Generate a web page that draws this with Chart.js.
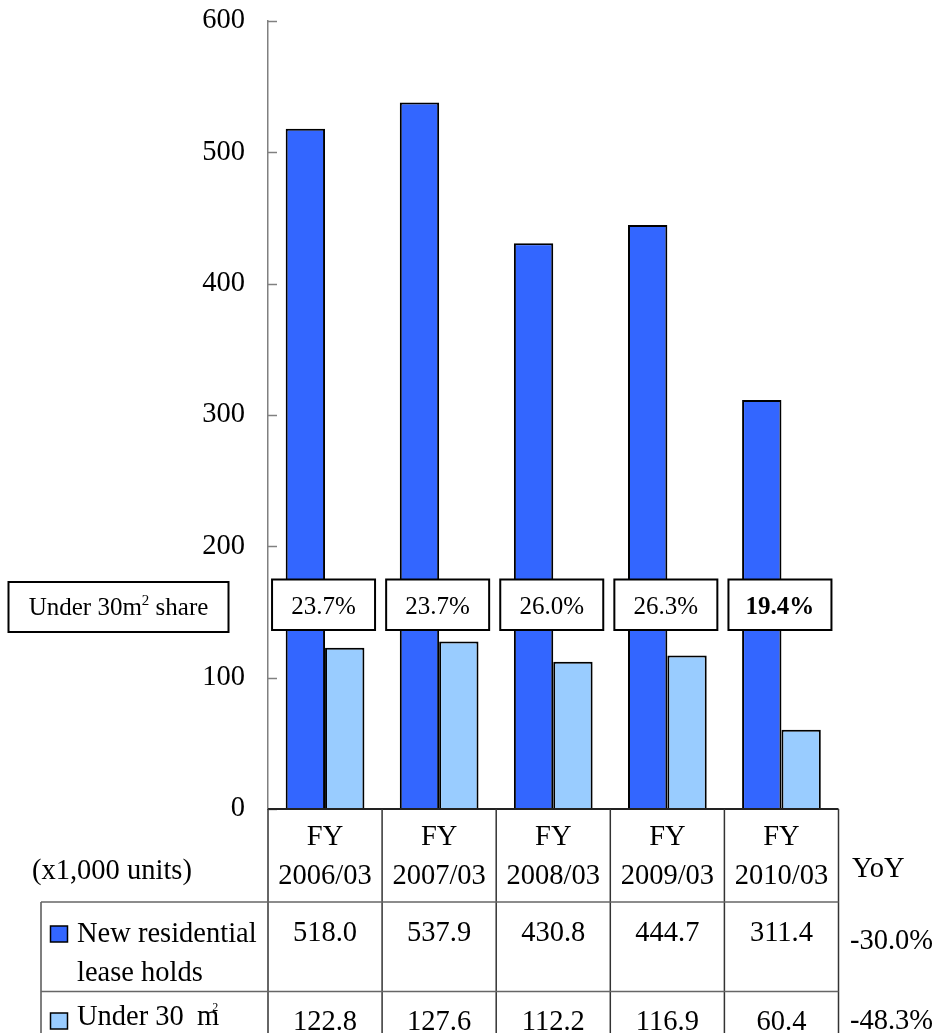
<!DOCTYPE html>
<html>
<head>
<meta charset="utf-8">
<script src="https://cdn.jsdelivr.net/npm/chart.js@4.4.0/dist/chart.umd.min.js"></script>
<style>
  html, body { margin: 0; padding: 0; background: #fff; }
  #wrap { width: 941px; height: 1033px; }
</style>
</head>
<body>
<div id="wrap"><canvas id="leaseChart" width="941" height="1033"></canvas></div>
<script>
const years = ["2006/03", "2007/03", "2008/03", "2009/03", "2010/03"];
const newLeases = [518.0, 537.9, 430.8, 444.7, 311.4];
const smallUnits = [122.8, 127.6, 112.2, 116.9, 60.4];
const yTicks = [0, 100, 200, 300, 400, 500, 600];
const barColors = ["#3366FF", "#99CCFF"];

const serif = "'Liberation Serif', 'Times New Roman', serif";

function drawText(ctx, str, x, y, size, align, bold) {
    ctx.font = (bold ? "bold " : "") + size + "px " + serif;
    ctx.textAlign = align || "left";
    ctx.textBaseline = "alphabetic";
    ctx.fillStyle = "#000";
    ctx.fillText(str, x, y);
}

function line(ctx, x1, y1, x2, y2, color, width) {
    ctx.beginPath();
    ctx.strokeStyle = color;
    ctx.lineWidth = width;
    ctx.moveTo(x1, y1);
    ctx.lineTo(x2, y2);
    ctx.stroke();
}

function boxRect(ctx, x, y, w, h) {
    ctx.fillStyle = "#fff";
    ctx.fillRect(x, y, w, h);
    ctx.strokeStyle = "#000";
    ctx.lineWidth = 2;
    ctx.strokeRect(x, y, w, h);
}

// share of small units, shown in boxes over the bars
const shareBoxes = {
    id: "shareBoxes",
    afterDatasetsDraw(chart) {
        const ctx = chart.ctx;
        const x = chart.scales.x;
        ctx.save();
        // caption box on the left
        boxRect(ctx, 8.5, 582, 220, 50);
        ctx.font = "25px " + serif;
        const a = "Under 30m", b = " share";
        const wa = ctx.measureText(a).width, wb = ctx.measureText(b).width;
        ctx.font = "15px " + serif;
        const ws = ctx.measureText("2").width;
        let sx = 118.5 - (wa + ws + wb) / 2;
        drawText(ctx, a, sx, 615, 25);
        drawText(ctx, "2", sx + wa, 605, 15);
        drawText(ctx, b, sx + wa + ws, 615, 25);

        newLeases.forEach((v, i) => {
            const cx = x.getPixelForValue(i) - 1.5;
            boxRect(ctx, cx - 51.5, 579.5, 103, 50.5);
            const share = (smallUnits[i] / v * 100).toFixed(1) + "%";
            drawText(ctx, share, cx, 614, 25, "center", i === newLeases.length - 1);
        });
        ctx.restore();
    }
};

// data table under the plot plus axis details
const dataTable = {
    id: "dataTable",
    afterDraw(chart) {
        const ctx = chart.ctx;
        const area = chart.chartArea;
        const x = chart.scales.x, y = chart.scales.y;
        const colW = (area.right - area.left) / years.length;
        ctx.save();

        // inward tick marks on the value axis
        yTicks.forEach(v => {
            const py = Math.round(y.getPixelForValue(v)) + 0.5;
            line(ctx, area.left, py, area.left + 9, py, "#808080", 1.5);
        });

        // category axis line
        line(ctx, area.left, area.bottom, area.right, area.bottom, "#222", 2);

        // table grid
        const top = 902, mid = 991.5, bottom = 1033, left = 41;
        for (let i = 0; i <= years.length; i++) {
            const vx = area.left + i * colW;
            line(ctx, vx, area.bottom, vx, bottom, "#333", 1.5);
        }
        line(ctx, left, top, left, bottom, "#555", 1.5);
        line(ctx, left, top, area.right, top, "#666", 1.5);
        line(ctx, left, mid, area.right, mid, "#666", 1.5);

        // header
        const fs = 28.5;
        years.forEach((yr, i) => {
            const cx = x.getPixelForValue(i);
            drawText(ctx, "FY", cx, 845, fs, "center");
            drawText(ctx, yr, cx, 884, fs, "center");
            drawText(ctx, newLeases[i].toFixed(1), cx, 941, fs, "center");
            drawText(ctx, smallUnits[i].toFixed(1), cx, 1030, fs, "center");
        });
        drawText(ctx, "(x1,000 units)", 32, 879, fs);
        drawText(ctx, "YoY", 852, 877, fs);

        // year-on-year change of the latest year
        const n = years.length;
        const yoy1 = ((newLeases[n - 1] / newLeases[n - 2] - 1) * 100).toFixed(1) + "%";
        const yoy2 = ((smallUnits[n - 1] / smallUnits[n - 2] - 1) * 100).toFixed(1) + "%";
        drawText(ctx, yoy1, 850, 949, fs);
        drawText(ctx, yoy2, 850, 1029, fs);

        // legend cells
        ctx.fillStyle = barColors[0];
        ctx.fillRect(50.5, 926, 17, 16);
        ctx.strokeStyle = "#000";
        ctx.lineWidth = 1.5;
        ctx.strokeRect(50.5, 926, 17, 16);
        ctx.fillStyle = barColors[1];
        ctx.fillRect(50.5, 1013, 17, 16);
        ctx.strokeRect(50.5, 1013, 17, 16);
        drawText(ctx, "New residential", 77, 942, fs);
        drawText(ctx, "lease holds", 77, 981, fs);
        drawText(ctx, "Under 30", 77, 1025, fs);
        ctx.font = fs + "px " + serif;
        const wu = ctx.measureText("Under 30 ").width;
        drawText(ctx, "m", 77 + wu + 6, 1025, fs);
        const wm = ctx.measureText("m").width;
        drawText(ctx, "2", 77 + wu + 6 + wm - 7, 1011, 12);

        ctx.restore();
    }
};

new Chart(document.getElementById("leaseChart"), {
    type: "bar",
    data: {
        labels: years,
        datasets: [{
            label: "New residential lease holds",
            data: newLeases,
            backgroundColor: barColors[0],
            borderColor: "#000",
            borderWidth: 2,
            categoryPercentage: 0.69,
            barPercentage: 1
        }, {
            label: "Under 30 m²",
            data: smallUnits,
            backgroundColor: barColors[1],
            borderColor: "#000",
            borderWidth: 2,
            categoryPercentage: 0.69,
            barPercentage: 1
        }]
    },
    options: {
        responsive: false,
        animation: false,
        devicePixelRatio: 1,
        layout: { padding: { left: 0, top: 21, right: 102.5, bottom: 224 } },
        plugins: {
            legend: { display: false },
            tooltip: { enabled: false }
        },
        scales: {
            x: { display: false },
            y: {
                min: 0,
                max: 600,
                afterFit: s => {
                    s.width = 268;
                    s.paddingTop = 0;
                    s.paddingBottom = 0;
                },
                afterBuildTicks: s => { s.ticks = yTicks.map(v => ({ value: v })); },
                grid: { display: false, drawTicks: false },
                border: { display: true, color: "#808080", width: 1.5 },
                ticks: { padding: 23, color: "#000", font: { family: serif, size: 28.5 } }
            }
        }
    },
    plugins: [shareBoxes, dataTable]
});
</script>
</body>
</html>
